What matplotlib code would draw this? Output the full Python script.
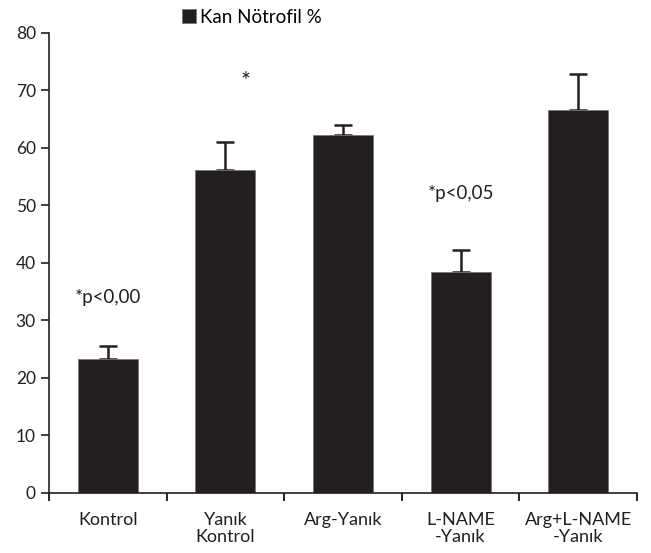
import matplotlib.pyplot as plt
import numpy as np

# data
categories = ['Kontrol', 'Yanık\nKontrol', 'Arg-Yanık', 'L-NAME\n-Yanık', 'Arg+L-NAME\n-Yanık']
means = [23.2, 56.1, 62.2, 38.3, 66.6]
errors = [2.3, 4.9, 1.8, 3.9, 6.2]
notes = ['*p<0,00', '*', '', '*p<0,05', '']
note_y = [34.0, 71.5, None, 52.0, None]

plt.rcParams['font.family'] = ['Lato', 'DejaVu Sans']
bar_color = '#231f20'

fig = plt.figure(figsize=(6.51, 5.53), dpi=100)
ax = fig.add_axes([0.0753, 0.1094, 0.9032, 0.8318])

x = np.arange(len(categories))
ax.bar(x, means, width=0.51, color=bar_color, edgecolor='#777777', linewidth=0.6,
       label='Kan Nötrofil %', zorder=2)
ax.errorbar(x, means, yerr=[np.zeros(len(means)), errors], fmt='none',
            ecolor=bar_color, elinewidth=1.8, capsize=6.5, capthick=1.8, zorder=1)

for xi, txt, ty in zip(x, notes, note_y):
    if txt == '*':
        ax.text(xi + 0.17, ty, txt, ha='center', va='center', fontsize=17,
                color='#231f20')
    elif txt:
        ax.text(xi, ty, txt, ha='center', va='center', fontsize=13.5, color='#231f20')

ax.set_xlim(-0.5, len(categories) - 0.5)
ax.set_ylim(0, 80)
ax.set_yticks(range(0, 81, 10))
ax.set_xticks(x)
ax.set_xticklabels(categories, fontsize=13, color='#231f20', linespacing=1.1)
ax.set_xticks(np.arange(-0.5, len(categories)), minor=True)
ax.tick_params(axis='x', which='major', length=0, pad=14)
ax.tick_params(axis='x', which='minor', length=6, width=1.2, direction='out')
ax.tick_params(axis='y', length=6, width=1.2, labelsize=12.5, colors='#231f20')

for s in ['top', 'right']:
    ax.spines[s].set_visible(False)
for s in ['left', 'bottom']:
    ax.spines[s].set_linewidth(1.2)
    ax.spines[s].set_color('#231f20')

fig.legend(loc='center left', bbox_to_anchor=(0.265, 0.969), frameon=False,
           fontsize=13.5, handlelength=0.75, handleheight=0.75, handletextpad=0.2,
           borderpad=0)

plt.savefig('out.png', dpi=100)
